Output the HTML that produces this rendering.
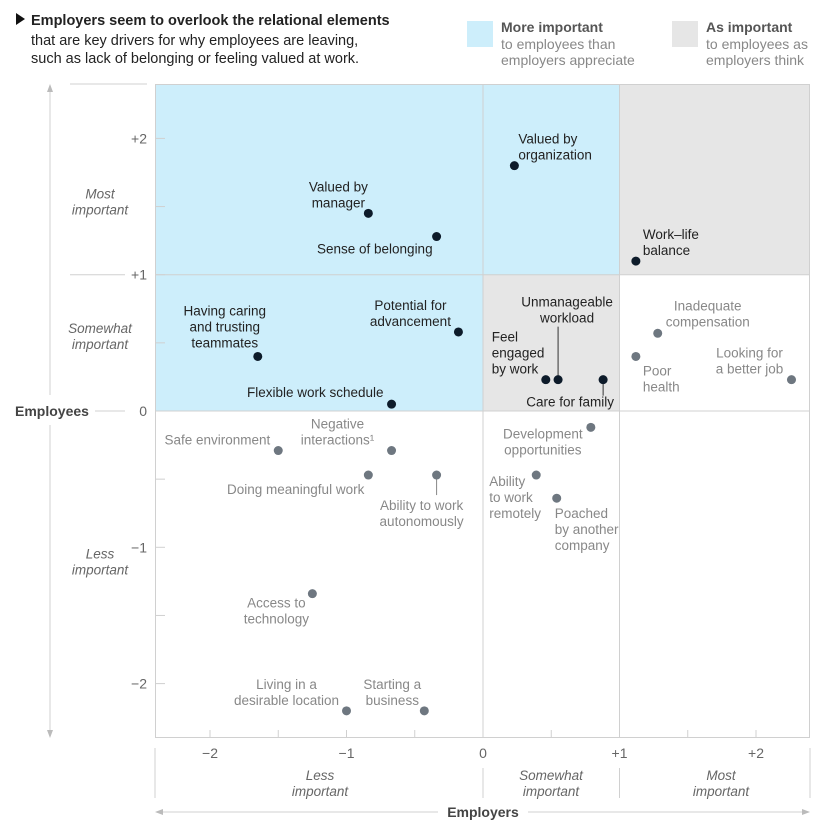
<!DOCTYPE html>
<html><head><meta charset="utf-8">
<style>
body{margin:0;background:#fff;font-family:"Liberation Sans",sans-serif;}
svg{display:block}
</style></head>
<body>
<svg id="chart" width="835" height="834" xmlns="http://www.w3.org/2000/svg">
<g font-size="14.5" fill="#222">
<polygon points="16,13 16,25 25,19" fill="#111"/>
<text x="31" y="25" font-weight="bold">Employers seem to overlook the relational elements</text>
<text x="31" y="45">that are key drivers for why employees are leaving,</text>
<text x="31" y="63">such as lack of belonging or feeling valued at work.</text>
</g>
<g font-size="14">
<rect x="467" y="21" width="26" height="26" fill="#cdeefb"/>
<text x="501" y="32" font-weight="bold" fill="#555">More important</text>
<text x="501" y="49" fill="#888">to employees than</text>
<text x="501" y="65" fill="#888">employers appreciate</text>
<rect x="672" y="21" width="26" height="26" fill="#e6e6e6"/>
<text x="706" y="32" font-weight="bold" fill="#555">As important</text>
<text x="706" y="49" fill="#888">to employees as</text>
<text x="706" y="65" fill="#888">employers think</text>
</g>
<g id="plot"></g>
</svg>
<script>
const categories=["Valued by organization","Valued by manager","Sense of belonging","Work–life balance","Potential for advancement","Having caring and trusting teammates","Flexible work schedule","Feel engaged by work","Unmanageable workload","Care for family","Inadequate compensation","Poor health","Looking for a better job","Development opportunities","Safe environment","Negative interactions","Doing meaningful work","Ability to work autonomously","Ability to work remotely","Poached by another company","Access to technology","Living in a desirable location","Starting a business"];
const employerValues=[0.23,-0.84,-0.34,1.12,-0.18,-1.65,-0.67,0.46,0.55,0.88,1.28,1.12,2.26,0.79,-1.50,-0.67,-0.84,-0.34,0.39,0.54,-1.25,-1.00,-0.43];
const employeeValues=[1.80,1.45,1.28,1.10,0.58,0.40,0.05,0.23,0.23,0.23,0.57,0.40,0.23,-0.12,-0.29,-0.29,-0.47,-0.47,-0.47,-0.64,-1.34,-2.20,-2.20];
const highlighted=[1,1,1,1,1,1,1,1,1,1,0,0,0,0,0,0,0,0,0,0,0,0,0];
const xTickLabels=["−2","−1","0","+1","+2"];
const yTickLabels=["−2","−1","0","+1","+2"];
const tickValues=[-2,-1,0,1,2];

const X0=155,X1=810,Y0=84,Y1=738;
const sx=v=>483+v*136.5;
const sy=v=>411-v*136.3;
const NS="http://www.w3.org/2000/svg";
const plot=document.getElementById('plot');
function mk(tag,attrs,parent){const e=document.createElementNS(NS,tag);for(const k in attrs)e.setAttribute(k,attrs[k]);(parent||plot).appendChild(e);return e;}

// label layout: [anchor, dx, dy, lines, leader]
const labelLayout=[
["start",4,-22,["Valued by","organization"]],
["middle",-30,-22,["Valued by","manager"]],
["end",-4,17,["Sense of belonging"]],
["start",7,-22,["Work–life","balance"]],
["middle",-48,-22,["Potential for","advancement"]],
["middle",-33,-41,["Having caring","and trusting","teammates"]],
["end",-8,-7,["Flexible work schedule"]],
["start",-54,-38,["Feel","engaged","by work"]],
["middle",9,-73,["Unmanageable","workload"],[0,-53]],
["middle",-33,27,["Care for family"],[0,16]],
["middle",50,-23,["Inadequate","compensation"]],
["start",7,19,["Poor","health"]],
["middle",-42,-22,["Looking for","a better job"]],
["middle",-48,11,["Development","opportunities"]],
["end",-8,-6,["Safe environment"]],
["middle",-54,-22,["Negative","interactions¹"]],
["end",-4,19,["Doing meaningful work"]],
["middle",-15,35,["Ability to work","autonomously"],[0,20]],
["start",-47,11,["Ability","to work","remotely"]],
["start",-2,20,["Poached","by another","company"]],
["middle",-36,14,["Access to","technology"]],
["middle",-60,-22,["Living in a","desirable location"]],
["middle",-32,-22,["Starting a","business"]]
];

// shaded regions
let r;
r=mk('rect',{x:X0,y:Y0,width:sx(1)-X0,height:sy(0)-Y0,fill:'#cdeefb'});


r=mk('rect',{x:sx(0),y:sy(1),width:sx(1)-sx(0),height:sy(0)-sy(1),fill:'#e6e6e6'});


r=mk('rect',{x:sx(1),y:Y0,width:X1-sx(1),height:sy(1)-Y0,fill:'#e6e6e6'});



// frame & grid
const g=mk('g',{stroke:'#d0d0d0','stroke-width':1,fill:'none'});


mk('rect',{x:X0+0.5,y:Y0+0.5,width:X1-X0-1,height:Y1-Y0-1},g);
[0,1].forEach(v=>{mk('line',{x1:sx(v),x2:sx(v),y1:Y0,y2:Y1},g);mk('line',{x1:X0,x2:X1,y1:sy(v),y2:sy(v)},g);});
for(let v=-2.5;v<=2.5;v+=0.5){
 const yy=sy(v); if(yy>Y0+2&&yy<Y1-2) mk('line',{x1:X0,x2:X0+10,y1:yy,y2:yy},g);
 const xx=sx(v); if(xx>X0+2&&xx<X1-2) mk('line',{x1:xx,x2:xx,y1:Y1,y2:Y1-8},g);
}
// y axis decorations
mk('line',{x1:70,x2:147,y1:Y0,y2:Y0},g);
mk('line',{x1:70,x2:125,y1:sy(1),y2:sy(1)},g);
mk('line',{x1:95,x2:125,y1:sy(0),y2:sy(0)},g);
mk('line',{x1:50,x2:50,y1:Y0+6,y2:395},g);
mk('line',{x1:50,x2:50,y1:425,y2:Y1-6},g);
mk('polygon',{points:`47,${Y0+8} 50,${Y0} 53,${Y0+8}`,fill:'#bbb',stroke:'none'},g);
mk('polygon',{points:`47,${Y1-8} 50,${Y1} 53,${Y1-8}`,fill:'#bbb',stroke:'none'},g);
// x axis decorations
[X0,sx(0),sx(1),X1].forEach((x,i)=>mk('line',{x1:x,x2:x,y1:(i==0||i==3)?748:768,y2:798},g));
mk('line',{x1:X0+6,x2:438,y1:812,y2:812},g);
mk('line',{x1:528,x2:X1-6,y1:812,y2:812},g);
mk('polygon',{points:`${X0+8},809 ${X0},812 ${X0+8},815`,fill:'#bbb',stroke:'none'},g);
mk('polygon',{points:`${X1-8},809 ${X1},812 ${X1-8},815`,fill:'#bbb',stroke:'none'},g);

// tick labels
const tl=mk('g',{'font-size':14,fill:'#666'});


tickValues.forEach((v,i)=>{
 let t=mk('text',{x:147,y:sy(v)+5,'text-anchor':'end'},tl);t.textContent=yTickLabels[i];
 
 
 t=mk('text',{x:sx(v),y:758,'text-anchor':'middle'},tl);t.textContent=xTickLabels[i];
 
 
});
// band labels
const bl=mk('g',{'font-size':13.5,fill:'#666','font-style':'italic','text-anchor':'middle'});


[[100,sy(1.5)-8,'Most','important'],[100,sy(0.5)-10,'Somewhat','important'],[100,sy(-1)+11,'Less','important'],
 [320,780,'Less','important'],[551,780,'Somewhat','important'],[721,780,'Most','important']].forEach(b=>{
 let t=mk('text',{x:b[0],y:b[1]},bl);t.textContent=b[2];
 t=mk('text',{x:b[0],y:b[1]+16},bl);t.textContent=b[3];
});
let t=mk('text',{x:15,y:416,'font-size':14,'font-weight':'bold',fill:'#444'});t.textContent='Employees';


t=mk('text',{x:483,y:817,'font-size':14,'font-weight':'bold',fill:'#444','text-anchor':'middle'});t.textContent='Employers';



// points
categories.forEach((c,i)=>{
 const px=sx(employerValues[i]),py=sy(employeeValues[i]);
 const dark=highlighted[i]==1;
 const grp=mk('g',{});
 
 
 const L=labelLayout[i];
 if(L[4]) mk('line',{x1:px,x2:px,y1:py,y2:py+L[4][1],stroke:dark?'#333':'#888','stroke-width':1},grp);
 mk('circle',{cx:px,cy:py,r:4.5,fill:dark?'#0d1b2a':'#6e7780'},grp);
 const tx=mk('text',{'font-size':13.5,fill:dark?'#222':'#888','text-anchor':L[0]},grp);
 L[3].forEach((s,k)=>{const sp=mk('tspan',{x:px+L[1],y:py+L[2]+k*16},tx);sp.textContent=s;});
});
</script>
</body></html>
